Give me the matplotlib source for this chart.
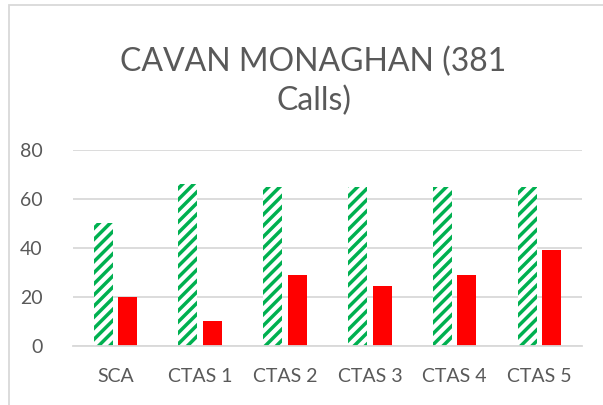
import matplotlib
matplotlib.use('Agg')
import matplotlib.pyplot as plt
import numpy as np
from matplotlib.patches import Rectangle

categories = ['SCA', 'CTAS 1', 'CTAS 2', 'CTAS 3', 'CTAS 4', 'CTAS 5']
green_vals = [50, 66, 65, 65, 65, 65]
red_vals = [20, 10, 29, 24.5, 29, 39]
y_ticks = [0, 20, 40, 60, 80]

plt.rcParams['font.family'] = ['Lato', 'DejaVu Sans']
plt.rcParams['hatch.linewidth'] = 2.5

fig = plt.figure(figsize=(6.03, 4.05), dpi=100)
ax = fig.add_axes([0.121, 0.146, 0.844, 0.484])

x = np.arange(len(categories))
w = 0.224
off = 0.145
ax.bar(x - off, green_vals, w, color='white', edgecolor='#00B050',
       linewidth=0, hatch='///')
ax.bar(x + off, red_vals, w, color='#FF0000', edgecolor='none')

ax.set_xlim(-0.5, len(categories) - 0.5)
ax.set_ylim(0, 80)
ax.set_yticks(y_ticks)
ax.set_xticks(x)
ax.set_xticklabels(categories)
ax.tick_params(length=0, labelsize=14, colors='#595959')
ax.tick_params(axis='y', pad=22)
ax.tick_params(axis='x', pad=16)
ax.grid(axis='y', color='#D9D9D9', linewidth=1.3)
ax.set_axisbelow(True)
for s in ['top', 'right', 'left']:
    ax.spines[s].set_visible(False)
ax.spines['bottom'].set_color('#D9D9D9')
ax.spines['bottom'].set_linewidth(1.3)

fig.text(0.52, 0.80, 'CAVAN MONAGHAN (381\nCalls)', ha='center', va='center',
         fontsize=23, color='#595959', linespacing=1.35)

# light frame around chart area
fig.patches.append(Rectangle((8.5 / 603, -0.1), 1.0, 1.1 - 5.5 / 405,
                             transform=fig.transFigure, fill=False,
                             edgecolor='#D9D9D9', linewidth=1.3))

fig.savefig('out.png', dpi=100)
